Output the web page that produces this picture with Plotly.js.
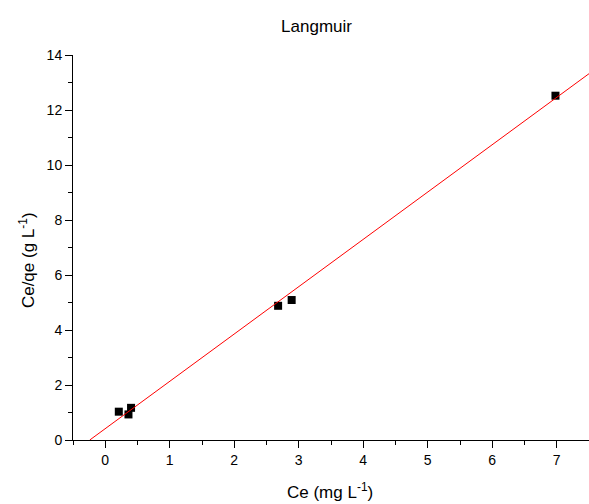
<!DOCTYPE html>
<html>
<head>
<meta charset="utf-8">
<script src="https://cdn.plot.ly/plotly-3.0.1.min.js"></script>
<style>html,body{margin:0;padding:0;background:#fff;}#chart{width:589px;height:504px;}</style>
</head>
<body>
<div id="chart"></div>
<script>
// Measured data (Ce in mg/L, Ce/qe in g/L)
const ceValues = [0.21, 0.36, 0.40, 2.68, 2.89, 6.98];
const ceQeValues = [1.03, 0.93, 1.17, 4.88, 5.09, 12.52];
// Linear fit line endpoints
const fitX = [-0.24, 7.5];
const fitY = [0, 13.32];
const xTickVals = [0, 1, 2, 3, 4, 5, 6, 7];
const yTickVals = [0, 2, 4, 6, 8, 10, 12, 14];
const xTitle = 'Ce (mg L<sup>-1</sup>)';
const yTitle = 'Ce/qe (g L<sup>-1</sup>)';
const chartTitle = 'Langmuir';

const font = 'Liberation Sans, Arial, Helvetica, sans-serif';

const traces = [
  {x: ceValues, y: ceQeValues, type: 'scatter', mode: 'markers',
   marker: {symbol: 'square', color: '#000', size: 8}, cliponaxis: false, showlegend: false},
  {x: fitX, y: fitY, type: 'scatter', mode: 'lines',
   line: {color: '#ff0000', width: 1}, showlegend: false}
];

const axisCommon = {
  showgrid: false, zeroline: false, showline: true, linecolor: '#000', linewidth: 1,
  ticks: 'outside', ticklen: 7, tickwidth: 1, tickcolor: '#000',
  tickfont: {family: font, size: 14, color: '#000'},
  mirror: false
};

const layout = {
  width: 589, height: 504,
  margin: {l: 73, r: 0, t: 55, b: 64},
  paper_bgcolor: '#fff', plot_bgcolor: '#fff',
  font: {family: font, color: '#000'},
  title: {text: chartTitle, font: {family: font, size: 17, color: '#000'},
          x: 0.472, xref: 'paper', y: 0.96, yref: 'container', xanchor: 'center'},
  xaxis: Object.assign({}, axisCommon, {
    range: [-0.5, 7.5], tickvals: xTickVals, ticktext: xTickVals.map(String),
    minor: {dtick: 0.5, tick0: 0, ticks: 'outside', ticklen: 4, tickcolor: '#000', tickwidth: 1}
  }),
  yaxis: Object.assign({}, axisCommon, {
    range: [0, 14], tickvals: yTickVals, ticktext: yTickVals.map(String),
    minor: {dtick: 1, tick0: 0, ticks: 'outside', ticklen: 4, tickcolor: '#000', tickwidth: 1}
  }),
  annotations: [
    {text: xTitle, xref: 'paper', yref: 'paper', x: 0.498, y: -0.1325,
     xanchor: 'center', yanchor: 'middle', showarrow: false,
     font: {family: font, size: 17, color: '#000'}},
    {text: yTitle, xref: 'paper', yref: 'paper', x: -0.089, y: 0.4675, textangle: -90,
     xanchor: 'center', yanchor: 'middle', showarrow: false,
     font: {family: font, size: 17, color: '#000'}}
  ]
};

Plotly.newPlot('chart', traces, layout, {displayModeBar: false, staticPlot: true});
</script>
</body>
</html>
